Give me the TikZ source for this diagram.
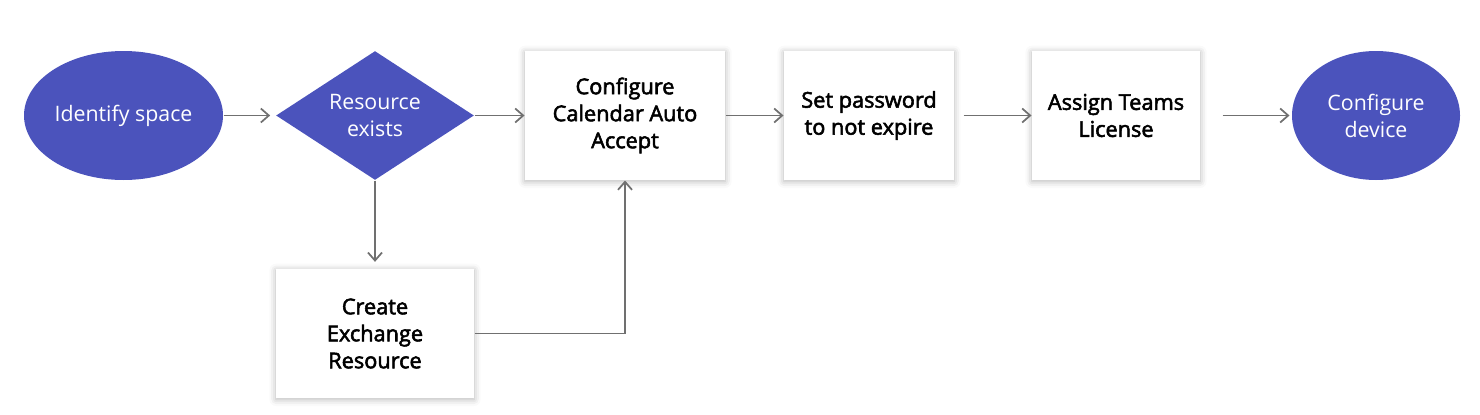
\documentclass[tikz,border=0pt]{standalone}
\usepackage{fontspec}
\setmainfont{Open Sans}
\newfontfamily\semibold{Open Sans}[FakeBold=2.5]
\usetikzlibrary{shapes.geometric,arrows.meta,shadows.blur}
\definecolor{teamsblue}{RGB}{75,83,188}
\definecolor{linegray}{RGB}{112,112,112}

\tikzset{every picture/.style={line width=0.75pt}}
\tikzset{
  labelfont/.style={font=\fontsize{16}{20.25}\selectfont},
  terminal/.style={ellipse, fill=teamsblue, draw=none, text=white, labelfont, align=center, inner sep=0pt, minimum height=96.75pt},
  decision/.style={diamond, fill=teamsblue, draw=none, text=white, labelfont, align=center, inner sep=0pt, aspect=1.53, minimum width=148.5pt, minimum height=96.75pt},
  stepbox/.style={rectangle, fill=white, draw=none, font=\semibold\fontsize{16.3}{20.25}\selectfont, align=center, inner sep=0pt, minimum height=96.75pt,
    blur shadow={shadow xshift=0pt, shadow yshift=-1pt, shadow blur radius=5pt, shadow opacity=30}},
  flow/.style={draw=linegray, line width=1.3pt, -{Straight Barb[length=6pt,width=10.5pt,line width=1.3pt]}}
}

\begin{document}
\begin{tikzpicture}[x=0.75pt,y=0.75pt,yscale=-1,xscale=1]
\useasboundingbox (0,0) rectangle (1480,414);

%Shape: Ellipse [id:identify]
\node [terminal, minimum width=149.25pt] (identify) at (123.5,115.5) {Identify space};
%Shape: Diamond [id:exists]
\node [decision] (exists) at (375,115.5) {Resource\\exists};
%Shape: Rectangle [id:autoaccept]
\node [stepbox, minimum width=150pt] (autoaccept) at (625,115.5) {Configure\\Calendar Auto\\Accept};
%Shape: Rectangle [id:password]
\node [stepbox, minimum width=127.5pt] (password) at (869,115.5) {Set password\\to not expire};
%Shape: Rectangle [id:license]
\node [stepbox, minimum width=126pt] (license) at (1116,115.5) {Assign Teams\\License};
%Shape: Ellipse [id:device]
\node [terminal, minimum width=126pt] (device) at (1376,115.5) {Configure\\device};
%Shape: Rectangle [id:createres]
\node [stepbox, minimum width=148.5pt] (createres) at (375,333.5) {Create\\Exchange\\Resource};

%Straight Lines
\draw [flow, shorten >=4pt] (identify) -- (exists);
\draw [flow] (exists) -- (autoaccept);
\draw [flow] (autoaccept) -- (password);
\draw [flow, shorten <=6.75pt] (password) -- (license);
\draw [flow, shorten <=16.5pt, shorten >=1.5pt] (license) -- (device);
\draw [flow, shorten >=5pt] (exists) -- (createres);
\draw [flow] (createres.east) -| (autoaccept.south);

\end{tikzpicture}
\end{document}
